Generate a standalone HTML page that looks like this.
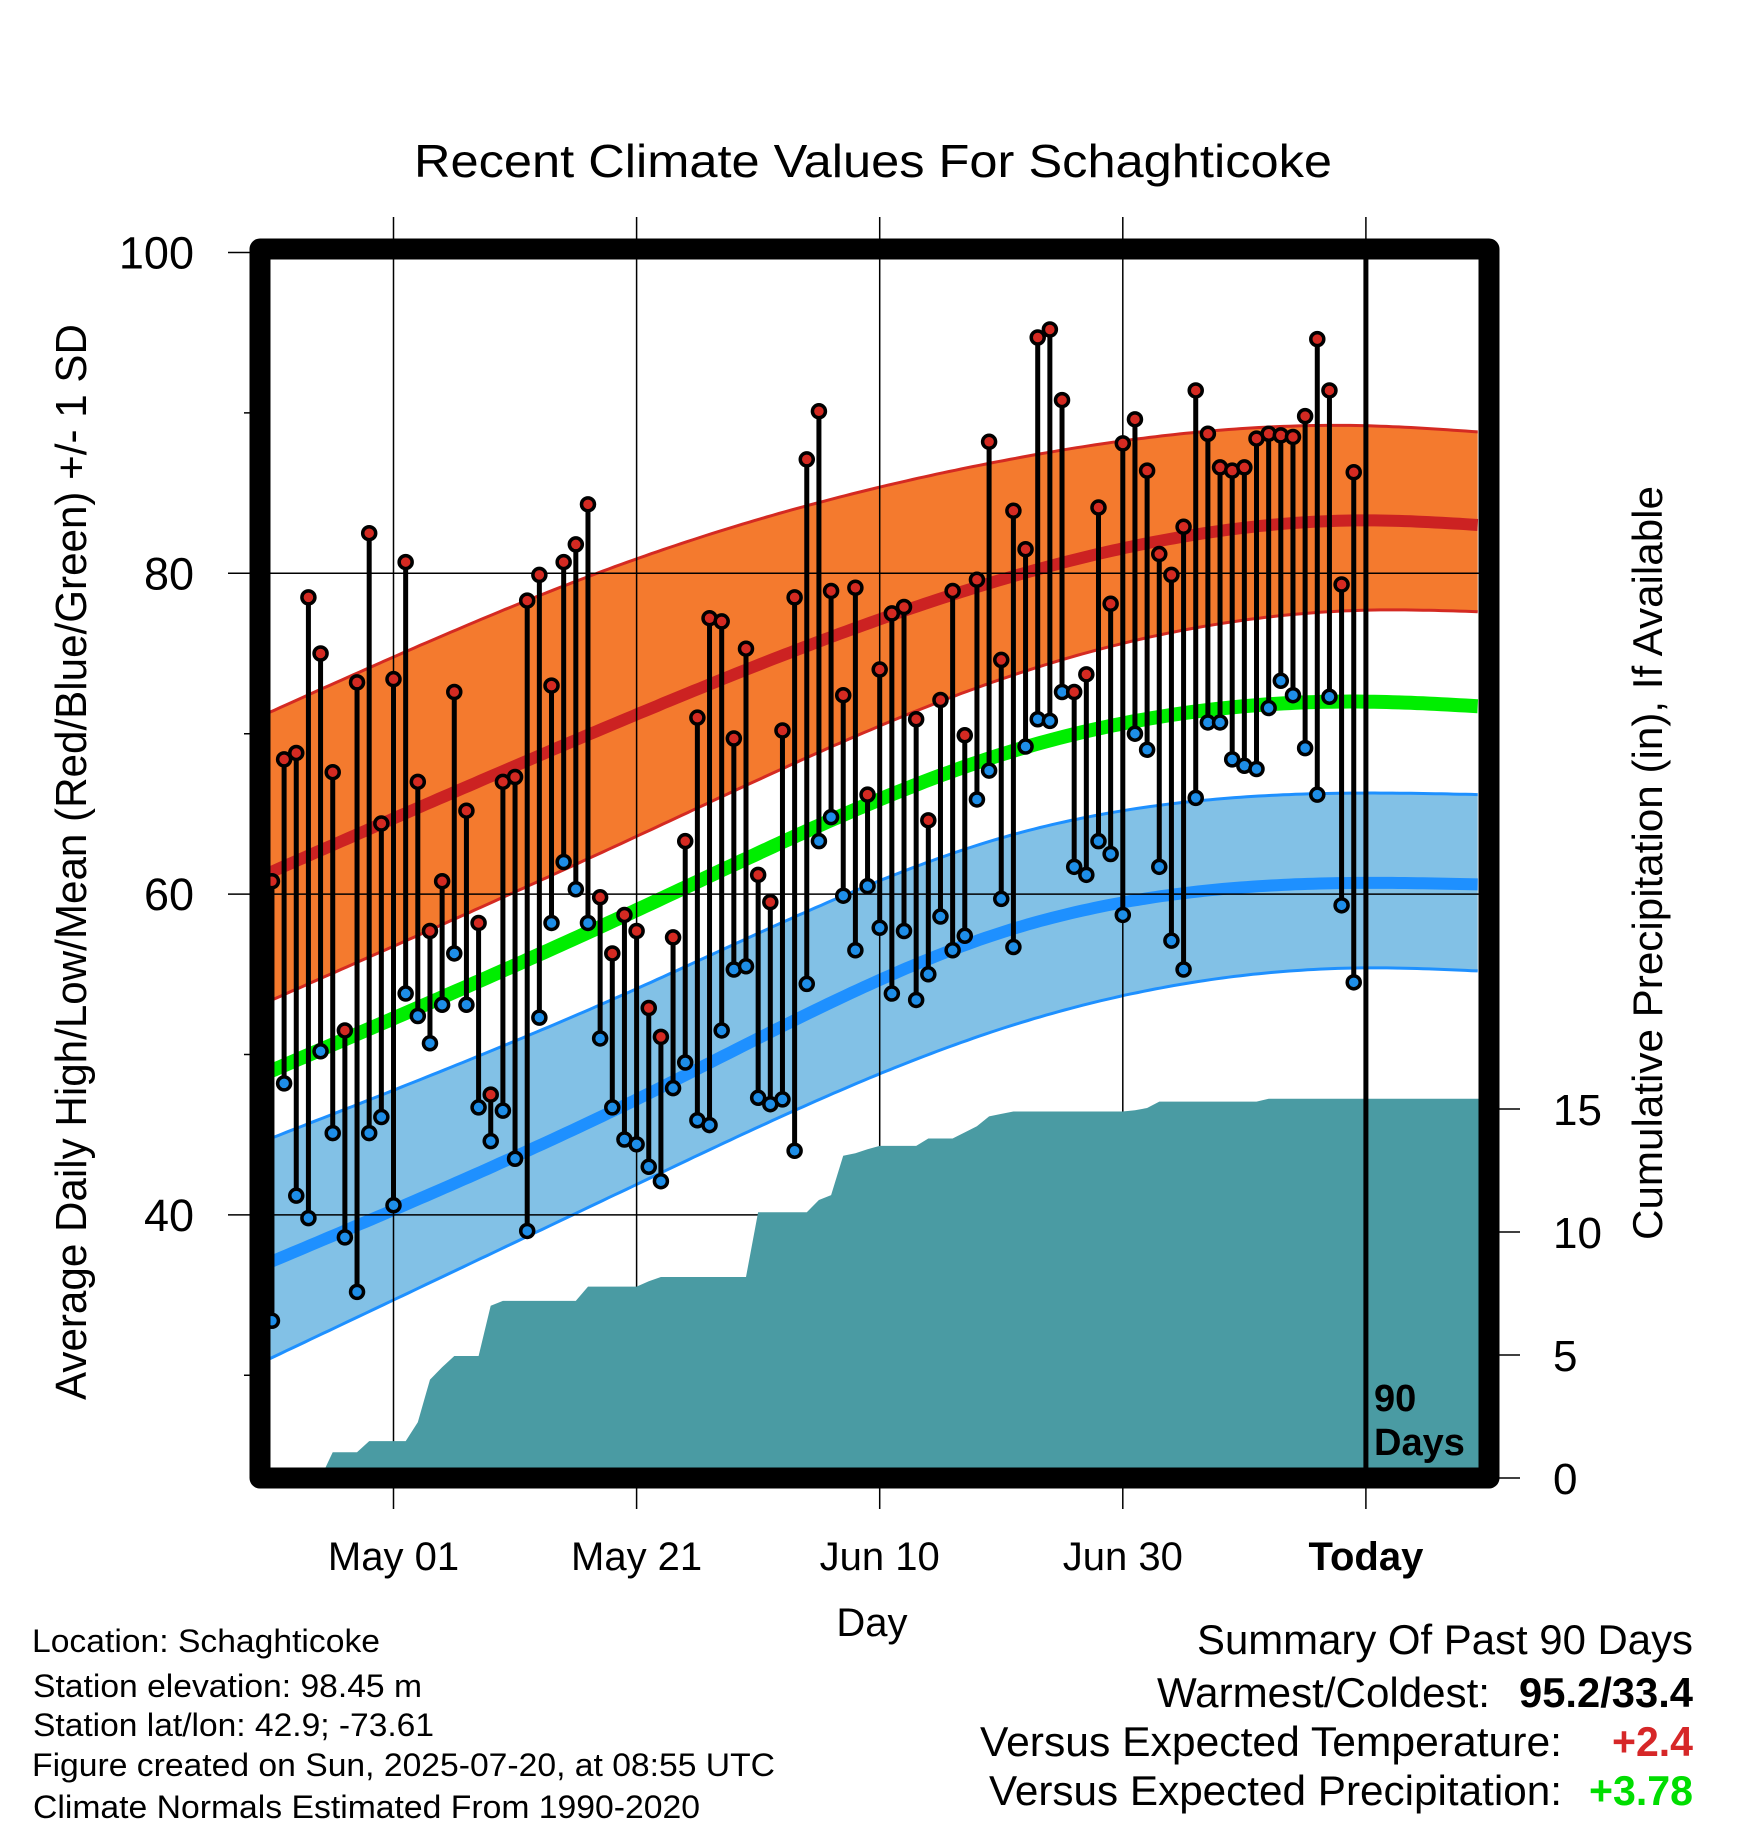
<!DOCTYPE html>
<html><head><meta charset="utf-8">
<style>
html,body{margin:0;padding:0;background:#fff;}
svg{display:block;font-family:"Liberation Sans",Arial,sans-serif;}
</style></head>
<body>
<svg id="chart" width="1748" height="1828" viewBox="0 0 1748 1828" xmlns="http://www.w3.org/2000/svg">
<rect width="1748" height="1828" fill="#fff"/>
<defs><clipPath id="plotclip"><rect x="270" y="259" width="1209" height="1209"/></clipPath></defs>
<g id="plot" clip-path="url(#plotclip)"></g>
<g id="over"></g>
<text x="873" y="177" text-anchor="middle" font-size="46" textLength="918" lengthAdjust="spacingAndGlyphs">Recent Climate Values For Schaghticoke</text>
<text transform="translate(86,862) rotate(-90)" text-anchor="middle" font-size="44" textLength="1076" lengthAdjust="spacingAndGlyphs">Average Daily High/Low/Mean (Red/Blue/Green) +/- 1 SD</text>
<text transform="translate(1662,863) rotate(-90)" text-anchor="middle" font-size="42" textLength="754" lengthAdjust="spacingAndGlyphs">Cumulative Precipitation (in), If Available</text>
<text x="872" y="1636" text-anchor="middle" font-size="40">Day</text>
<g font-size="32">
<text x="32" y="1652" textLength="348" lengthAdjust="spacingAndGlyphs">Location: Schaghticoke</text>
<text x="33" y="1697" textLength="389" lengthAdjust="spacingAndGlyphs">Station elevation: 98.45 m</text>
<text x="33" y="1736" textLength="401" lengthAdjust="spacingAndGlyphs">Station lat/lon: 42.9; -73.61</text>
<text x="32" y="1776" textLength="743" lengthAdjust="spacingAndGlyphs">Figure created on Sun, 2025-07-20, at 08:55 UTC</text>
<text x="33" y="1818" textLength="667" lengthAdjust="spacingAndGlyphs">Climate Normals Estimated From 1990-2020</text>
</g>
<g font-size="42">
<text x="1693" y="1654" text-anchor="end" textLength="496" lengthAdjust="spacingAndGlyphs">Summary Of Past 90 Days</text>
<text x="1157" y="1707" textLength="333" lengthAdjust="spacingAndGlyphs">Warmest/Coldest:</text>
<text x="1519" y="1707" font-weight="bold" textLength="174" lengthAdjust="spacingAndGlyphs">95.2/33.4</text>
<text x="980" y="1756" textLength="582" lengthAdjust="spacingAndGlyphs">Versus Expected Temperature:</text>
<text x="1612" y="1756" font-weight="bold" fill="#d62728" textLength="81" lengthAdjust="spacingAndGlyphs">+2.4</text>
<text x="989" y="1805" textLength="573" lengthAdjust="spacingAndGlyphs">Versus Expected Precipitation:</text>
<text x="1589" y="1805" font-weight="bold" fill="#00dd00" textLength="104" lengthAdjust="spacingAndGlyphs">+3.78</text>
</g>
</svg>
<script>
// ---- data ----
const normDays = [-90, -60, -30, 0, 9.5];
const hiUpper = [71.4, 80.9, 87.0, 89.2, 88.8];
const hiMean  = [61.4, 71.2, 79.6, 83.3, 83.0];
const hiLower = [53.4, 63.6, 73.4, 77.7, 77.6];
const meanTemp= [49.0, 59.0, 68.7, 72.0, 71.7];
const loUpper = [44.8, 54.1, 63.5, 66.3, 66.2];
const loMean  = [37.1, 47.2, 57.6, 60.7, 60.6];
const loLower = [31.1, 41.9, 51.6, 55.4, 55.2];
const highs = [60.8,68.4,68.8,78.5,75.0,67.6,51.5,73.2,82.5,64.4,73.4,80.7,67.0,57.7,60.8,72.6,65.2,58.2,47.5,67.0,67.3,78.3,79.9,73.0,80.7,81.8,84.3,59.8,56.3,58.7,57.7,52.9,51.1,57.3,63.3,71.0,77.2,77.0,69.7,75.3,61.2,59.5,70.2,78.5,87.1,90.1,78.9,72.4,79.1,66.2,74.0,77.5,77.9,70.9,64.6,72.1,78.9,69.9,79.6,88.2,74.6,83.9,81.5,94.7,95.2,90.8,72.6,73.7,84.1,78.1,88.1,89.6,86.4,81.2,79.9,82.9,91.4,88.7,86.6,86.4,86.6,88.4,88.7,88.6,88.5,89.8,94.6,91.4,79.3,86.3];
const lows = [33.4,48.2,41.2,39.8,50.2,45.1,38.6,35.2,45.1,46.1,40.6,53.8,52.4,50.7,53.1,56.3,53.1,46.7,44.6,46.5,43.5,39.0,52.3,58.2,62.0,60.3,58.2,51.0,46.7,44.7,44.4,43.0,42.1,47.9,49.5,45.9,45.6,51.5,55.3,55.5,47.3,46.9,47.2,44.0,54.4,63.3,64.8,59.9,56.5,60.5,57.9,53.8,57.7,53.4,55.0,58.6,56.5,57.4,65.9,67.7,59.7,56.7,69.2,70.9,70.8,72.6,61.7,61.2,63.3,62.5,58.7,70.0,69.0,61.7,57.1,55.3,66.0,70.7,70.7,68.4,68.0,67.8,71.6,73.3,72.4,69.1,66.2,72.3,59.3,54.5];
const precip = [0,0,0,0,0,1.05,1.05,1.05,1.5,1.5,1.5,1.5,2.27,4.0,4.5,4.96,4.96,4.96,7.0,7.2,7.2,7.2,7.2,7.2,7.2,7.2,7.78,7.78,7.78,7.78,7.78,8.0,8.17,8.17,8.17,8.17,8.17,8.17,8.17,8.17,10.8,10.8,10.8,10.8,10.8,11.3,11.5,13.1,13.2,13.36,13.5,13.5,13.5,13.5,13.8,13.8,13.8,14.05,14.3,14.7,14.8,14.9,14.9,14.9,14.9,14.9,14.9,14.9,14.9,14.9,14.9,14.95,15.04,15.3,15.3,15.3,15.3,15.3,15.3,15.3,15.3,15.3,15.42,15.42,15.42,15.42,15.42,15.42,15.42,15.42];
const tempTicks = [100, 80, 60, 40];
const tempMinor = [90, 70, 50, 30];
const precipTicks = [0, 5, 10, 15];
const dateTickDays = [-80, -60, -40, -20, 0];
const dateTickLabels = ["May 01", "May 21", "Jun 10", "Jun 30", "Today"];

// ---- scales ----
const xOf = d => 393.5 + (d + 80) * 12.155;
const yT = t => 252.5 + (100 - t) * 16.04;
const yP = p => 1478 - p * 24.6;
const NS = "http://www.w3.org/2000/svg";
const plot = document.getElementById('plot');
const over = document.getElementById('over');
function mk(tag, attrs, parent) {
  const e = document.createElementNS(NS, tag);
  for (const k in attrs) e.setAttribute(k, attrs[k]);
  parent.appendChild(e);
  return e;
}
// natural cubic spline
function spline(xs, ys) {
  const n = xs.length, h = [], al = [], l = [1], mu = [0], z = [0], c = new Array(n).fill(0), b = [], d = [];
  for (let i = 0; i < n - 1; i++) h.push(xs[i + 1] - xs[i]);
  for (let i = 1; i < n - 1; i++) al[i] = 3 / h[i] * (ys[i + 1] - ys[i]) - 3 / h[i - 1] * (ys[i] - ys[i - 1]);
  for (let i = 1; i < n - 1; i++) {
    l[i] = 2 * (xs[i + 1] - xs[i - 1]) - h[i - 1] * mu[i - 1];
    mu[i] = h[i] / l[i];
    z[i] = (al[i] - h[i - 1] * z[i - 1]) / l[i];
  }
  z[n - 1] = 0;
  for (let j = n - 2; j >= 0; j--) {
    c[j] = z[j] - mu[j] * c[j + 1];
    b[j] = (ys[j + 1] - ys[j]) / h[j] - h[j] * (c[j + 1] + 2 * c[j]) / 3;
    d[j] = (c[j + 1] - c[j]) / (3 * h[j]);
  }
  return x => {
    let i = 0;
    while (i < n - 2 && x > xs[i + 1]) i++;
    const dx = x - xs[i];
    return ys[i] + b[i] * dx + c[i] * dx * dx + d[i] * dx * dx * dx;
  };
}
function curvePts(vals) {
  const f = spline(normDays, vals);
  const pts = [];
  for (let d = -90.3; d <= 9.6; d += 0.5) pts.push([xOf(d), yT(f(d))]);
  return pts;
}
const ptsStr = p => p.map(q => q[0].toFixed(1) + ',' + q[1].toFixed(1)).join(' ');

function band(up, lo, fill, name) {
  const a = curvePts(up), b = curvePts(lo).reverse();
  const e = mk('polygon', {points: ptsStr(a.concat(b)), fill: fill}, plot);
  
  
}
function line(vals, color, w, name) {
  const e = mk('polyline', {points: ptsStr(curvePts(vals)), fill: 'none', stroke: color, 'stroke-width': w}, plot);
  
  
}
band(hiUpper, hiLower, '#f47a2e', 'high-sd-band');
line(hiUpper, '#d42a22', 3, 'high-upper-edge');
line(hiLower, '#d42a22', 3, 'high-lower-edge');
line(hiMean, '#cc2222', 12, 'normal-high-line');
band(loUpper, loLower, '#82c1e6', 'low-sd-band');
line(loUpper, '#1e90ff', 3, 'low-upper-edge');
line(loLower, '#1e90ff', 3, 'low-lower-edge');
line(loMean, '#1e90ff', 12, 'normal-low-line');
line(meanTemp, '#00ee00', 14, 'normal-mean-line');

// grid
tempTicks.forEach(t => {
  const g = mk('line', {x1: 228, x2: 1479, y1: yT(t), y2: yT(t), stroke: '#000', 'stroke-width': 1.5}, over);
  
  
  const lb = mk('text', {x: 194, y: yT(t) + 16, 'text-anchor': 'end', 'font-size': 45}, over);
  lb.textContent = t;
  
  
});
tempMinor.forEach(t => {
  const g = mk('line', {x1: 244, x2: 262, y1: yT(t), y2: yT(t), stroke: '#000', 'stroke-width': 1.5}, over);
  
  
});
dateTickDays.forEach((d, i) => {
  const g = mk('line', {x1: xOf(d), x2: xOf(d), y1: 217, y2: 1509, stroke: '#000', 'stroke-width': 1.5}, over);
  
  
  const lb = mk('text', {x: xOf(d), y: 1570, 'text-anchor': 'middle', 'font-size': 40}, over);
  if (d === 0) lb.setAttribute('font-weight', 'bold');
  lb.textContent = dateTickLabels[i];
  
  
});

// precipitation area
(function () {
  const pts = [[270, yP(0)]];
  precip.forEach((p, i) => pts.push([xOf(i - 90), yP(p)]));
  pts.push([1480, yP(precip[precip.length - 1])]);
  pts.push([1480, 1480]);
  pts.push([270, 1480]);
  const e = mk('polygon', {points: ptsStr(pts), fill: '#4a9ba3'}, over);
  
  
})();

// today line
(function () {
  const e = mk('line', {x1: xOf(0), x2: xOf(0), y1: 250, y2: 1478, stroke: '#000', 'stroke-width': 5}, over);
  
  
})();

// stems and points
highs.forEach((h, i) => {
  const x = xOf(i - 90);
  const s = mk('line', {x1: x, x2: x, y1: yT(h), y2: yT(lows[i]), stroke: '#000', 'stroke-width': 5}, over);
  
  
});
highs.forEach((h, i) => {
  const x = xOf(i - 90);
  const lo = mk('circle', {cx: x, cy: yT(lows[i]), r: 6.5, fill: '#1e8ee8', stroke: '#000', 'stroke-width': 3.5}, over);
  
  
  const hi = mk('circle', {cx: x, cy: yT(h), r: 6.5, fill: '#d42a22', stroke: '#000', 'stroke-width': 3.5}, over);
  
  
});

// frame
(function () {
  const f = mk('rect', {x: 260, y: 249, width: 1229, height: 1229, fill: 'none', stroke: '#000', 'stroke-width': 21, 'stroke-linejoin': 'round'}, over);
  
  
})();

// right axis
precipTicks.forEach(p => {
  const t = mk('line', {x1: 1490, x2: 1520, y1: yP(p), y2: yP(p), stroke: '#000', 'stroke-width': 1.5}, over);
  
  
  const lb = mk('text', {x: 1553, y: yP(p) + 16, 'font-size': 44}, over);
  lb.textContent = p;
  
  
});

// 90 days label
(function () {
  const a = mk('text', {x: 1374, y: 1411, 'font-size': 38, 'font-weight': 'bold'}, over);
  a.textContent = '90';
  
  
  const b = mk('text', {x: 1374, y: 1455, 'font-size': 38, 'font-weight': 'bold'}, over);
  b.textContent = 'Days';
  
  
})();
</script>
</body></html>
